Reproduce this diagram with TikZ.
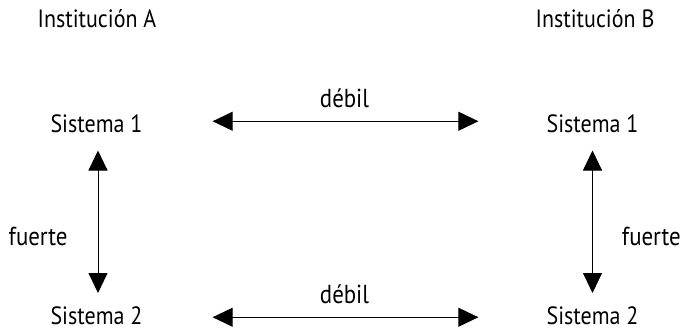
\documentclass[tikz,border=0pt]{standalone}
\usepackage{fontspec}
\setmainfont{PT Sans}[FakeStretch=0.88]
\usetikzlibrary{arrows.meta, positioning}

\begin{document}
\begin{tikzpicture}[
    x=1pt, y=-1pt,
    inst/.style={inner sep=0pt, anchor=base, font=\fontsize{25}{29}\selectfont},
    sys/.style={inner sep=0pt, anchor=base, font=\fontsize{25}{29}\selectfont},
    lbl/.style={inner sep=0pt, font=\fontsize{26}{30}\selectfont},
    arrow/.style={{Triangle[length=20pt, width=19pt]}-{Triangle[length=20pt, width=19pt]}, line width=0.9pt}
]
\useasboundingbox (0,0) rectangle (685,329);

% Institutions
\node[inst] (instA) at (97,28) {Institución A};
\node[inst] (instB) at (595,28) {Institución B};

% Systems
\node[sys] (s1a) at (96.5,132) {Sistema 1};
\node[sys] (s1b) at (592.5,132) {Sistema 1};
\node[sys] (s2a) at (96.5,324) {Sistema 2};
\node[sys] (s2b) at (592.5,324) {Sistema 2};

% Weak links
\draw[arrow, shorten <=70pt, shorten >=68pt] ([yshift=2pt]s1a.east) -- ([yshift=2pt]s1b.west)
    node[lbl, midway, anchor=base, yshift=14pt] (weak1) {débil};
\draw[arrow, shorten <=70pt, shorten >=68pt] ([yshift=-2pt]s2a.east) -- ([yshift=-2pt]s2b.west)
    node[lbl, midway, anchor=base, yshift=14pt] (weak2) {débil};

% Strong links
\draw[arrow, shorten <=18pt, shorten >=13pt] ([xshift=1.5pt]s1a.south) -- ([xshift=1.5pt]s2a.north)
    node[lbl, pos=0.6, left=30pt] (strongA) {fuerte};
\draw[arrow, shorten <=18pt, shorten >=13pt] (s1b.south) -- (s2b.north)
    node[lbl, pos=0.6, right=29pt] (strongB) {fuerte};
\end{tikzpicture}
\end{document}
